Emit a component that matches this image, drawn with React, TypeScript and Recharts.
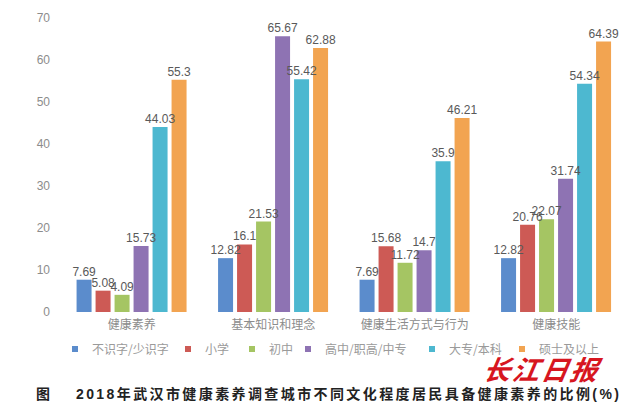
import React from 'react';
import { BarChart, Bar, XAxis, YAxis, LabelList } from 'recharts';

const categories = ['健康素养', '基本知识和理念', '健康生活方式与行为', '健康技能'];
const seriesNames = ['不识字/少识字', '小学', '初中', '高中/职高/中专', '大专/本科', '硕士及以上'];
const seriesColors = ['#5b8ccc', '#cd5a55', '#a5c563', '#8e73b3', '#4db8d0', '#f2a451'];

const illiterate = [7.69, 12.82, 7.69, 12.82];
const primary = [5.08, 16.1, 15.68, 20.76];
const junior = [4.09, 21.53, 11.72, 22.07];
const senior = [15.73, 65.67, 14.7, 31.74];
const college = [44.03, 55.42, 35.9, 54.34];
const master = [55.3, 62.88, 46.21, 64.39];

const yTicks = [0, 10, 20, 30, 40, 50, 60, 70];

const seriesValues = [illiterate, primary, junior, senior, college, master];

const data = categories.map((name, i) => {
  const row: Record<string, string | number> = { name };
  seriesValues.forEach((vals, s) => {
    row['s' + s] = vals[i];
  });
  return row;
});

// legend marker x positions
const legendX = [75, 188, 252, 308, 432, 522];

const font = '"Liberation Sans", "Noto Sans CJK SC", sans-serif';

export default function App() {
  return (
    <div style={{ position: 'absolute', left: 0, top: 0, width: 640, height: 407, background: '#fff', fontFamily: font, overflow: 'hidden' }}>
      <BarChart
        width={640}
        height={340}
        data={data}
        margin={{ top: 18, right: 13, left: 31, bottom: 0 }}
        barCategoryGap="11%"
        barGap={4}
      >
        <XAxis
          dataKey="name"
          axisLine={false}
          tickLine={false}
          height={28}
          tick={{ fill: '#8c8c8c', fontSize: 12, fontFamily: font }}
        />
        <YAxis
          domain={[0, 70]}
          ticks={yTicks}
          width={30}
          axisLine={false}
          tickLine={false}
          tickMargin={5}
          tick={{ fill: '#8c8c8c', fontSize: 12, fontFamily: font }}
        />
        {seriesNames.map((n, s) => (
          <Bar key={n} dataKey={'s' + s} name={n} fill={seriesColors[s]} isAnimationActive={false}>
            <LabelList dataKey={'s' + s} position="top" offset={4} fill="#595959" fontSize={12} fontFamily={font} />
          </Bar>
        ))}
      </BarChart>

      {seriesNames.map((n, s) => (
        <div key={n} style={{ position: 'absolute', top: 340, left: legendX[s] - 3, display: 'flex', alignItems: 'center', fontSize: 12, color: '#9a9a9a', whiteSpace: 'nowrap', fontFamily: '"Noto Sans CJK SC", sans-serif' }}>
          <span style={{ display: 'inline-block', width: 6, height: 6, background: seriesColors[s], marginRight: 14 }} />
          <span>{n}</span>
        </div>
      ))}

      <div style={{ position: 'absolute', top: 349, left: 484, fontSize: 27, fontWeight: 'bold', fontStyle: 'italic', color: '#d7161f', fontFamily: '"Noto Sans CJK SC", serif', letterSpacing: 2, transform: 'skewX(-10deg)' }}>
        长江日报
      </div>

      <div style={{ position: 'absolute', top: 383, left: 36, fontSize: 14, fontWeight: 'bold', color: '#222', fontFamily: font, whiteSpace: 'nowrap' }}>
        <span style={{ marginRight: 26 }}>图</span>
        <span style={{ letterSpacing: 2.4 }}>2018年武汉市健康素养调查城市不同文化程度居民具备健康素养的比例(%)</span>
      </div>
    </div>
  );
}
